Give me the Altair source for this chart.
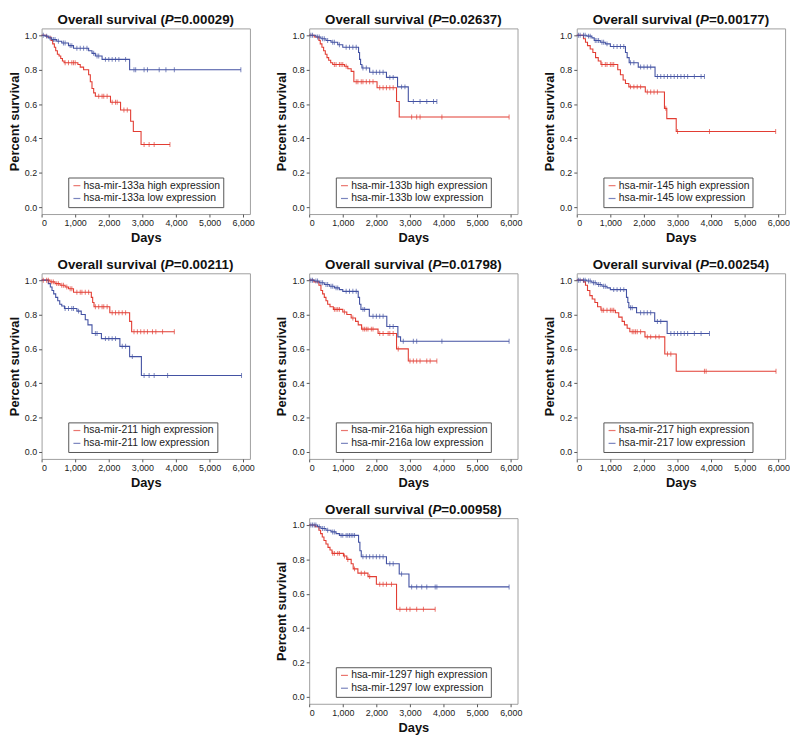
import altair as alt
import pandas as pd

RED = "#e23d33"
BLUE = "#4352a3"
FONT = "Liberation Sans"

names = ["hsa-mir-133a", "hsa-mir-133b", "hsa-mir-145", "hsa-mir-211",
         "hsa-mir-216a", "hsa-mir-217", "hsa-mir-1297"]
pvalues = ["0.00029", "0.02637", "0.00177", "0.00211", "0.01798", "0.00254", "0.00958"]

x_ticks = [0, 1000, 2000, 3000, 4000, 5000, 6000]
y_ticks = [0.0, 0.2, 0.4, 0.6, 0.8, 1.0]

# ---- hsa-mir-133a ----
hi_133a_t = [0, 150, 280, 330, 380, 420, 470, 520, 570, 620, 670, 1080, 1150, 1250, 1400, 1450, 1500, 1550, 1600, 2050, 2350, 2650, 2730, 2960]
hi_133a_s = [1.0, 0.99, 0.97, 0.95, 0.93, 0.91, 0.89, 0.88, 0.865, 0.85, 0.84, 0.83, 0.815, 0.80, 0.77, 0.73, 0.69, 0.665, 0.645, 0.61, 0.565, 0.50, 0.44, 0.365]
hi_133a_end = 3820
hi_133a_c = [700, 800, 900, 950, 1000, 1700, 1800, 1850, 1950, 2100, 2200, 2250, 2450, 2550, 3050, 3200, 3350, 3820]
lo_133a_t = [0, 100, 200, 300, 450, 600, 800, 950, 1400, 1500, 1600, 1800, 2620]
lo_133a_s = [1.0, 0.995, 0.985, 0.975, 0.965, 0.955, 0.94, 0.925, 0.91, 0.895, 0.88, 0.86, 0.80]
lo_133a_end = 5930
lo_133a_c = [50, 150, 250, 350, 400, 500, 650, 700, 850, 900, 1050, 1150, 1250, 1350, 1550, 1650, 1700, 1900, 2000, 2100, 2200, 2300, 2500, 2750, 2800, 3050, 3150, 3500, 3700, 3950, 5930]

# ---- hsa-mir-133b ----
hi_133b_t = [0, 150, 290, 330, 380, 430, 480, 530, 580, 640, 700, 1050, 1150, 1250, 1330, 2020, 2600, 2680]
hi_133b_s = [1.0, 0.99, 0.97, 0.95, 0.93, 0.91, 0.89, 0.87, 0.855, 0.84, 0.83, 0.82, 0.805, 0.79, 0.73, 0.695, 0.615, 0.525]
hi_133b_end = 5950
hi_133b_c = [750, 800, 900, 950, 1000, 1100, 1400, 1450, 1550, 1600, 1700, 1800, 1900, 2100, 2200, 2300, 2400, 2500, 3050, 3200, 3300, 3950, 5950]
lo_133b_t = [0, 200, 350, 500, 650, 850, 1000, 1470, 1500, 1530, 1570, 1800, 2300, 2630, 2950]
lo_133b_s = [1.0, 0.99, 0.98, 0.97, 0.96, 0.945, 0.93, 0.90, 0.86, 0.83, 0.81, 0.785, 0.755, 0.70, 0.615]
lo_133b_end = 3800
lo_133b_c = [50, 100, 250, 300, 400, 450, 550, 700, 750, 900, 1100, 1200, 1300, 1400, 1600, 1700, 1900, 2000, 2100, 2200, 2400, 2500, 2750, 2850, 3100, 3300, 3500, 3700, 3800]

# ---- hsa-mir-145 ----
hi_145_t = [0, 200, 260, 320, 400, 480, 560, 640, 720, 1220, 1300, 1380, 1450, 1550, 2040, 2610, 2680, 2960]
hi_145_s = [1.0, 0.98, 0.96, 0.94, 0.92, 0.90, 0.87, 0.85, 0.83, 0.80, 0.77, 0.74, 0.72, 0.70, 0.67, 0.575, 0.515, 0.44]
hi_145_end = 5920
hi_145_c = [750, 850, 900, 1000, 1050, 1100, 1600, 1700, 1800, 1900, 2100, 2200, 2300, 2400, 2650, 3000, 3950, 5920]
lo_145_t = [0, 300, 450, 520, 700, 850, 1000, 1450, 1500, 1560, 1830, 2330]
lo_145_s = [1.0, 0.995, 0.985, 0.97, 0.96, 0.95, 0.935, 0.90, 0.87, 0.84, 0.815, 0.76]
lo_145_end = 3800
lo_145_c = [50, 100, 200, 250, 350, 400, 550, 600, 650, 750, 800, 900, 1100, 1200, 1300, 1400, 1600, 1700, 1900, 2000, 2100, 2200, 2400, 2500, 2600, 2700, 2800, 2900, 3000, 3100, 3200, 3300, 3500, 3700, 3800]

# ---- hsa-mir-211 ----
hi_211_t = [0, 250, 400, 550, 700, 800, 950, 1480, 1520, 1560, 2030, 2620, 2680]
hi_211_s = [1.0, 0.99, 0.98, 0.97, 0.96, 0.95, 0.93, 0.90, 0.87, 0.845, 0.81, 0.76, 0.70]
hi_211_end = 3950
hi_211_c = [50, 150, 200, 300, 350, 450, 500, 600, 650, 750, 850, 900, 1050, 1150, 1200, 1300, 1400, 1600, 1700, 1800, 1850, 1950, 2100, 2200, 2300, 2400, 2500, 2750, 2850, 2950, 3050, 3150, 3300, 3400, 3600, 3950]
lo_211_t = [0, 200, 260, 310, 360, 420, 480, 540, 600, 680, 1050, 1180, 1300, 1380, 1500, 1780, 2330, 2620, 2970]
lo_211_s = [1.0, 0.98, 0.96, 0.94, 0.92, 0.90, 0.88, 0.86, 0.85, 0.835, 0.82, 0.80, 0.77, 0.74, 0.69, 0.66, 0.615, 0.555, 0.445]
lo_211_end = 5950
lo_211_c = [700, 800, 900, 950, 1100, 1600, 1650, 1900, 2000, 2100, 2200, 2400, 2500, 2700, 3050, 3200, 3350, 3750, 5950]

# ---- hsa-mir-216a ----
hi_216a_t = [0, 140, 290, 350, 400, 450, 500, 550, 620, 720, 1000, 1120, 1250, 1380, 1460, 1560, 2050, 2600, 2950]
hi_216a_s = [1.0, 0.99, 0.97, 0.94, 0.92, 0.90, 0.88, 0.86, 0.845, 0.83, 0.815, 0.80, 0.78, 0.76, 0.74, 0.715, 0.69, 0.60, 0.53]
hi_216a_end = 3800
hi_216a_c = [750, 800, 850, 900, 1050, 1300, 1600, 1650, 1700, 1750, 1850, 1900, 2100, 2200, 2350, 2400, 2500, 2650, 3000, 3100, 3200, 3300, 3500, 3600, 3800]
lo_216a_t = [0, 150, 300, 450, 600, 750, 900, 1000, 1460, 1500, 1540, 1790, 2310, 2640, 2720]
lo_216a_s = [1.0, 0.995, 0.985, 0.975, 0.965, 0.955, 0.945, 0.935, 0.90, 0.86, 0.83, 0.79, 0.73, 0.67, 0.645]
lo_216a_end = 5950
lo_216a_c = [50, 100, 200, 250, 350, 400, 500, 550, 650, 700, 800, 850, 1100, 1200, 1300, 1400, 1600, 1650, 1900, 2000, 2100, 2200, 2400, 2500, 2800, 3100, 3200, 3950, 5950]

# ---- hsa-mir-217 ----
hi_217_t = [0, 200, 260, 320, 390, 460, 540, 620, 720, 1150, 1250, 1350, 1420, 1500, 1580, 2030, 2620, 2960]
hi_217_s = [1.0, 0.99, 0.97, 0.94, 0.91, 0.89, 0.87, 0.845, 0.825, 0.81, 0.785, 0.76, 0.74, 0.72, 0.70, 0.67, 0.57, 0.47]
hi_217_end = 5930
hi_217_c = [750, 800, 900, 1000, 1050, 1100, 1650, 1700, 1750, 1800, 1900, 2100, 2200, 2350, 2450, 2700, 2800, 3800, 3850, 5930]
lo_217_t = [0, 300, 450, 600, 750, 900, 1000, 1480, 1520, 1550, 1780, 2320, 2690]
lo_217_s = [1.0, 0.995, 0.985, 0.975, 0.965, 0.955, 0.945, 0.90, 0.87, 0.84, 0.81, 0.76, 0.69]
lo_217_end = 3950
lo_217_c = [50, 100, 200, 250, 350, 400, 500, 550, 650, 700, 800, 850, 1100, 1200, 1300, 1400, 1600, 1650, 1900, 2000, 2100, 2200, 2400, 2500, 2800, 2900, 3000, 3100, 3200, 3300, 3500, 3700, 3950]

# ---- hsa-mir-1297 ----
hi_1297_t = [0, 180, 290, 340, 390, 440, 500, 560, 620, 680, 1020, 1120, 1250, 1310, 1450, 1750, 2000, 2600]
hi_1297_s = [1.0, 0.99, 0.97, 0.95, 0.93, 0.91, 0.89, 0.87, 0.855, 0.835, 0.82, 0.80, 0.775, 0.745, 0.72, 0.70, 0.655, 0.51]
hi_1297_end = 3750
hi_1297_c = [700, 750, 850, 900, 1050, 1150, 1350, 1550, 1650, 1800, 2100, 2200, 2300, 2450, 2700, 2900, 3000, 3200, 3400, 3750]
lo_1297_t = [0, 250, 350, 500, 650, 800, 900, 1470, 1510, 1550, 2300, 2680, 2970]
lo_1297_s = [1.0, 0.99, 0.98, 0.97, 0.96, 0.95, 0.94, 0.90, 0.85, 0.815, 0.775, 0.715, 0.64]
lo_1297_end = 5950
lo_1297_c = [50, 100, 150, 200, 300, 400, 450, 550, 700, 750, 950, 1000, 1100, 1150, 1200, 1250, 1300, 1350, 1600, 1700, 1800, 1900, 2000, 2100, 2200, 2400, 2500, 2750, 3050, 3200, 3350, 3500, 3750, 3800, 5950]

panels = [
    (hi_133a_t, hi_133a_s, hi_133a_end, hi_133a_c, lo_133a_t, lo_133a_s, lo_133a_end, lo_133a_c),
    (hi_133b_t, hi_133b_s, hi_133b_end, hi_133b_c, lo_133b_t, lo_133b_s, lo_133b_end, lo_133b_c),
    (hi_145_t, hi_145_s, hi_145_end, hi_145_c, lo_145_t, lo_145_s, lo_145_end, lo_145_c),
    (hi_211_t, hi_211_s, hi_211_end, hi_211_c, lo_211_t, lo_211_s, lo_211_end, lo_211_c),
    (hi_216a_t, hi_216a_s, hi_216a_end, hi_216a_c, lo_216a_t, lo_216a_s, lo_216a_end, lo_216a_c),
    (hi_217_t, hi_217_s, hi_217_end, hi_217_c, lo_217_t, lo_217_s, lo_217_end, lo_217_c),
    (hi_1297_t, hi_1297_s, hi_1297_end, hi_1297_c, lo_1297_t, lo_1297_s, lo_1297_end, lo_1297_c),
]

W, H = 211, 188
TFS = 13.5
# Arial/Liberation Sans bold advance widths (per 1000 em)
BW = {'O': 778, 'v': 556, 'e': 556, 'r': 389, 'a': 556, 'l': 278, ' ': 278, 's': 556,
      'u': 611, 'i': 278, '(': 333, ')': 333, '=': 584, '.': 278, 'P': 667}


def text_w(s):
    return sum(BW.get(ch, 556) for ch in s) * TFS / 1000.0


def surv_at(times, surv, c):
    v = surv[0]
    for t, s in zip(times, surv):
        if t <= c:
            v = s
    return v


AX = dict(grid=False, domain=False, labelOverlap=False, labelFont=FONT, titleFont=FONT,
          labelFontSize=9, labelColor="#222", tickColor="#555", tickSize=3,
          labelPadding=2, titleFontSize=13, titleFontWeight="bold",
          titleColor="#111")


def panel(i):
    name = names[i]
    hi_t, hi_s, hi_end, hi_c, lo_t, lo_s, lo_end, lo_c = panels[i]
    hi_lab = f"{name} high expression"
    lo_lab = f"{name} low expression"
    rows, cens = [], []
    for lab, ts, ss, end, cs in [(hi_lab, hi_t, hi_s, hi_end, hi_c), (lo_lab, lo_t, lo_s, lo_end, lo_c)]:
        for t, s in zip(ts, ss):
            rows.append({"t": t, "s": s, "g": lab})
        rows.append({"t": end, "s": ss[-1], "g": lab})
        for c in cs:
            cens.append({"t": c, "s": surv_at(ts, ss, c), "g": lab})
    steps = pd.DataFrame(rows)
    cdf = pd.DataFrame(cens)

    legend = alt.Legend(
        title=None, orient="none", legendX=27, legendY=151, direction="vertical",
        fillColor="white", strokeColor="#555", padding=3,
        labelFontSize=10.5, labelFont=FONT, labelColor="#222", labelLimit=400,
        symbolType="M-0.75,0L1,0", symbolSize=64, symbolStrokeWidth=1.2,
        labelOffset=2, rowPadding=2,
    )
    color = alt.Color("g:N", scale=alt.Scale(domain=[hi_lab, lo_lab], range=[RED, BLUE]), legend=legend)
    x = alt.X("t:Q", scale=alt.Scale(domain=[0, 6200], nice=False, zero=False),
              axis=alt.Axis(values=x_ticks, format=",d", title="Days", titlePadding=4, **AX))
    y = alt.Y("s:Q", scale=alt.Scale(domain=[-0.04, 1.04], nice=False, zero=False),
              axis=alt.Axis(values=y_ticks, format=".1f", title="Percent survival", titlePadding=3, **AX))

    lines = alt.Chart(steps).mark_line(interpolate="step-after", strokeWidth=1.1).encode(
        x=x, y=y, color=color, order="t:Q")
    ticks = alt.Chart(cdf).mark_tick(orient="vertical", size=5, thickness=1).encode(
        x=x, y=y, color=color)

    p1 = "Overall survival ("
    p2 = "P"
    p3 = "=" + pvalues[i] + ")"
    total = text_w(p1) + text_w(p2) + text_w(p3)
    xa = W / 2 - total / 2 + text_w(p1)
    xb = xa + text_w(p2)
    one = pd.DataFrame({"k": [0]})
    tbase = dict(font=FONT, fontSize=TFS, fontWeight="bold", baseline="alphabetic", color="#111")
    t1 = alt.Chart(one).mark_text(text=p1, align="right", **tbase).encode(x=alt.value(xa), y=alt.value(-4))
    t2 = alt.Chart(one).mark_text(text=p2, align="left", fontStyle="italic", **tbase).encode(x=alt.value(xa), y=alt.value(-4))
    t3 = alt.Chart(one).mark_text(text=p3, align="left", **tbase).encode(x=alt.value(xb), y=alt.value(-4))

    return alt.layer(lines, ticks, t1, t2, t3).properties(width=W, height=H)


row1 = alt.hconcat(panel(0), panel(1), panel(2), spacing=20).resolve_scale(color="independent")
row2 = alt.hconcat(panel(3), panel(4), panel(5), spacing=20).resolve_scale(color="independent")
row3 = alt.hconcat(panel(6), spacing=20).resolve_scale(color="independent")

chart = alt.vconcat(row1, row2, row3, spacing=12, center=True).resolve_scale(
    color="independent"
).properties(padding=0, background="white").configure_view(
    stroke="#9e9e9e", strokeWidth=1
).configure_axis(
    labelOverlap=False, grid=False
)

chart.save("out.html", embed_options={"renderer": "svg", "actions": False})
